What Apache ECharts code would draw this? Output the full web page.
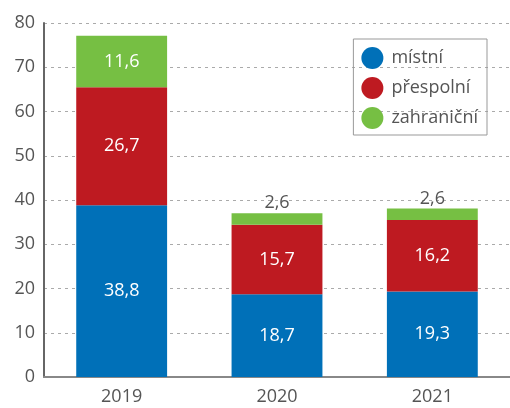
<!DOCTYPE html>
<html><head><meta charset="utf-8">
<script src="https://cdn.jsdelivr.net/npm/echarts@6/dist/echarts.min.js"></script>
<style>html,body{margin:0;padding:0;background:#fff}#c{width:510px;height:408px}</style>
</head><body><div id="c"></div>
<script>
var categories = ['2019', '2020', '2021'];
var mistni = [38.8, 18.7, 19.3];
var prespolni = [26.7, 15.7, 16.2];
var zahranicni = [11.6, 2.6, 2.6];
var seriesNames = ['místní', 'přespolní', 'zahraniční'];
var colors = ['#0070b8', '#be1a21', '#76bf43'];
var FONT = 'Open Sans';

function fmt(p) { return String(p.value).replace('.', ','); }
function mk(name, vals, color) {
  return {
    name: name, type: 'bar', stack: 's', barWidth: '58.5%',
    itemStyle: { color: color },
    data: vals.map(function (v) {
      var small = v < 5;
      return {
        value: v,
        label: small ? { position: 'top', color: '#555', distance: 1 } : { position: 'inside', color: '#fff' }
      };
    }),
    label: { show: true, formatter: fmt, fontFamily: FONT, fontSize: 18 }
  };
}
var chart = echarts.init(document.getElementById('c'));
chart.setOption({
  animation: false,
  grid: { left: 44, right: 0, top: 23, bottom: 31 },
  legend: {
    right: 23, top: 39, orient: 'vertical',
    icon: 'circle', itemWidth: 22, itemHeight: 22, itemGap: 8,
    borderColor: '#999', borderWidth: 1, padding: [8, 9, 6, 8],
    textStyle: { fontFamily: FONT, fontSize: 18, color: '#555', padding: [0, 0, 0, 3] },
    data: seriesNames
  },
  xAxis: {
    type: 'category', data: categories,
    axisLine: { lineStyle: { color: '#888', width: 2 } },
    axisTick: { show: false },
    axisLabel: { fontFamily: FONT, fontSize: 18, color: '#555', margin: 11 }
  },
  yAxis: {
    type: 'value', min: 0, max: 80, interval: 10,
    axisLine: { show: true, lineStyle: { color: '#666', width: 2 } },
    axisTick: { show: false },
    splitLine: { lineStyle: { color: '#aaa', type: [3, 4] } },
    axisLabel: { fontFamily: FONT, fontSize: 18, color: '#555', margin: 9 }
  },
  series: [mk(seriesNames[0], mistni, colors[0]), mk(seriesNames[1], prespolni, colors[1]), mk(seriesNames[2], zahranicni, colors[2])]
});
</script></body></html>
